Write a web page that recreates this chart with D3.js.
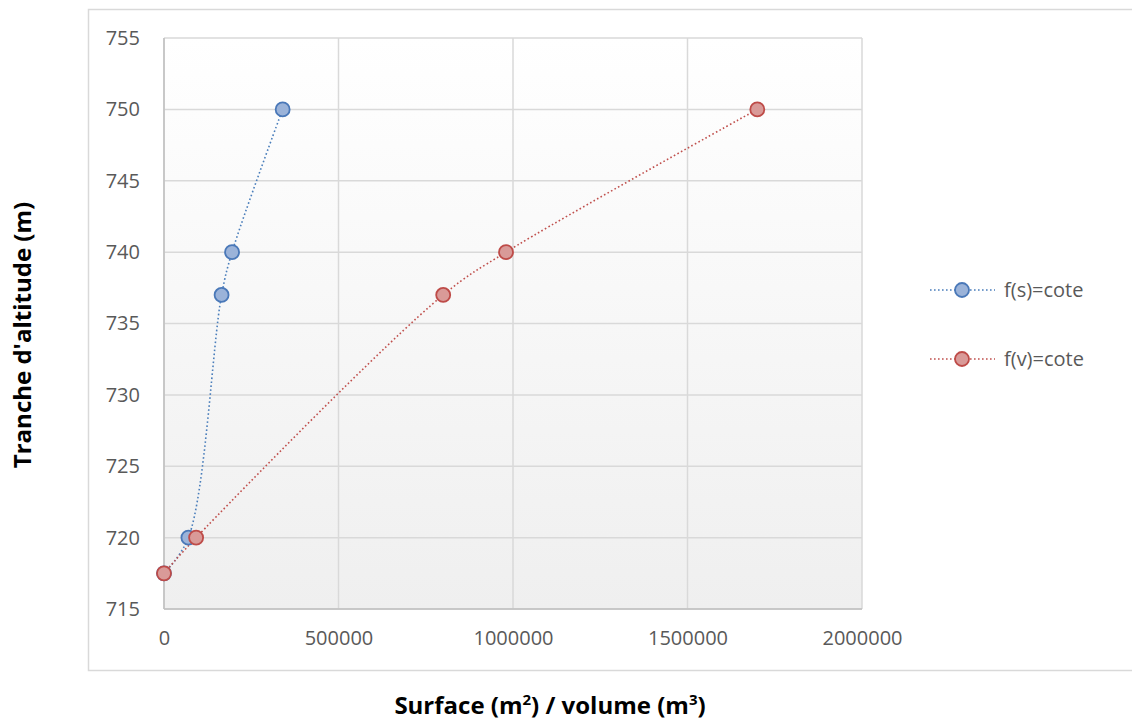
<!DOCTYPE html>
<html><head><meta charset="utf-8">
<script src="https://cdn.jsdelivr.net/npm/d3@7"></script>
<style>body{margin:0;background:#fff;}svg{display:block;}</style>
</head><body>
<svg id="c" width="1132" height="720"></svg>
<script>
const seriesNames = ["f(s)=cote", "f(v)=cote"];
const surfaceX = [0, 70000, 165000, 195000, 340000];
const surfaceY = [717.5, 720, 737, 740, 750];
const volumeX = [0, 92000, 800000, 980000, 1700000];
const volumeY = [717.5, 720, 737, 740, 750];
const xTicks = [0, 500000, 1000000, 1500000, 2000000];
const yTicks = [715, 720, 725, 730, 735, 740, 745, 750, 755];

const svg = d3.select("#c");
const L = 164, R = 862, T = 38, B = 609;
const x = d3.scaleLinear().domain([0, 2000000]).range([L, R]);
const y = d3.scaleLinear().domain([715, 755]).range([B, T]);

// outer chart border
svg.append("rect").attr("x", 88.5).attr("y", 9.5).attr("width", 1060).attr("height", 661)
  .attr("fill", "#fff").attr("stroke", "#d9d9d9").attr("stroke-width", 1.5);

const defs = svg.append("defs");
const g = defs.append("linearGradient").attr("id", "bg").attr("x1", 0).attr("y1", 0).attr("x2", 0).attr("y2", 1);
g.append("stop").attr("offset", "0%").attr("stop-color", "#ffffff");
g.append("stop").attr("offset", "100%").attr("stop-color", "#efefef");
svg.append("rect").attr("x", L).attr("y", T).attr("width", R - L).attr("height", B - T).attr("fill", "url(#bg)");

// grid
svg.append("g").selectAll("line").data(yTicks).join("line")
  .attr("x1", L).attr("x2", R).attr("y1", d => y(d)).attr("y2", d => y(d))
  .attr("stroke", "#d9d9d9").attr("stroke-width", 1.5);
svg.append("g").selectAll("line").data(xTicks).join("line")
  .attr("y1", T).attr("y2", B).attr("x1", d => x(d)).attr("x2", d => x(d))
  .attr("stroke", "#d9d9d9").attr("stroke-width", 1.5);
svg.append("line").attr("x1", L).attr("x2", L).attr("y1", T).attr("y2", B).attr("stroke", "#bfbfbf").attr("stroke-width", 1.5);
svg.append("line").attr("x1", L).attr("x2", R).attr("y1", B).attr("y2", B).attr("stroke", "#bfbfbf").attr("stroke-width", 1.5);

// axes via d3
const font = "'Open Sans', 'Liberation Sans', sans-serif";
const yAxis = svg.append("g").attr("transform", `translate(${L},0)`)
  .call(d3.axisLeft(y).tickValues(yTicks).tickSize(0).tickPadding(24).tickFormat(d3.format("d")));
const xAxis = svg.append("g").attr("transform", `translate(0,${B})`)
  .call(d3.axisBottom(x).tickValues(xTicks).tickSize(0).tickPadding(22).tickFormat(d3.format("d")));
[yAxis, xAxis].forEach(a => {
  a.select(".domain").remove();
  a.selectAll("text").attr("fill", "#595959").style("font-family", font).style("font-size", "20px");
});

const series = [
  {name: seriesNames[0], xs: surfaceX, ys: surfaceY, line: "#4a7ebb", fill: "#9bb3d9", stroke: "#4a78b8"},
  {name: seriesNames[1], xs: volumeX, ys: volumeY, line: "#c0504d", fill: "#d99a98", stroke: "#be4b48"}
];
const lineGen = d3.line().x(d => x(d[0])).y(d => y(d[1])).curve(d3.curveCatmullRom.alpha(0.5));
series.forEach(s => {
  const pts = s.xs.map((v, i) => [v, s.ys[i]]);
  svg.append("path").attr("d", lineGen(pts)).attr("fill", "none")
    .attr("stroke", s.line).attr("stroke-width", 1.6).attr("stroke-dasharray", "1.6,2.4");
});
series.forEach(s => {
  const pts = s.xs.map((v, i) => [v, s.ys[i]]);
  svg.append("g").selectAll("circle").data(pts).join("circle")
    .attr("cx", d => x(d[0])).attr("cy", d => y(d[1])).attr("r", 7)
    .attr("fill", s.fill).attr("stroke", s.stroke).attr("stroke-width", 1.8);
});

// legend
const legY = [290, 359];
series.forEach((s, i) => {
  const lg = svg.append("g");
  lg.append("line").attr("x1", 930).attr("x2", 995).attr("y1", legY[i]).attr("y2", legY[i])
    .attr("stroke", s.line).attr("stroke-width", 1.6).attr("stroke-dasharray", "1.6,2.4");
  lg.append("circle").attr("cx", 962).attr("cy", legY[i]).attr("r", 7)
    .attr("fill", s.fill).attr("stroke", s.stroke).attr("stroke-width", 1.8);
  lg.append("text").attr("x", 1004).attr("y", legY[i]).attr("dy", "0.35em")
    .attr("fill", "#595959").style("font-family", font).style("font-size", "20px").text(s.name);
});

// axis titles
svg.append("text").attr("transform", "translate(31,335) rotate(-90)").attr("text-anchor", "middle")
  .style("font-family", font).style("font-size", "24px").style("font-weight", "bold").attr("fill", "#000")
  .text("Tranche d'altitude (m)");
const xt = svg.append("text").attr("x", 550).attr("y", 714).attr("text-anchor", "middle")
  .style("font-family", font).style("font-size", "24px").style("font-weight", "bold").attr("fill", "#000");
xt.append("tspan").text("Surface (m");
xt.append("tspan").attr("dy", -9).style("font-size", "15px").text("2");
xt.append("tspan").attr("dy", 9).text(") / volume (m");
xt.append("tspan").attr("dy", -9).style("font-size", "15px").text("3");
xt.append("tspan").attr("dy", 9).text(")");
</script>
</body></html>
